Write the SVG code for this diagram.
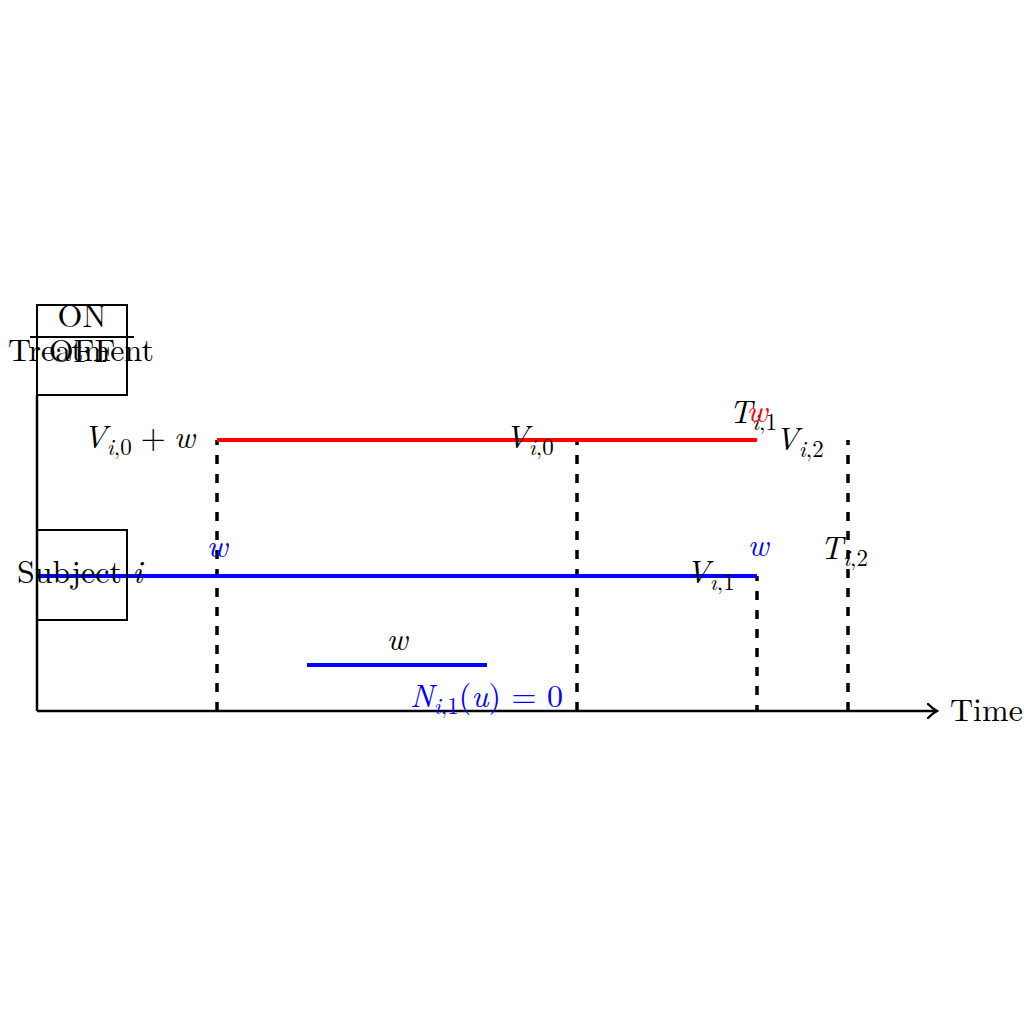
<svg xmlns="http://www.w3.org/2000/svg" width="1024" height="1024" viewBox="0 0 1024 1024">
<defs>
<style>
text{font-family:"Latin Modern Roman","Liberation Serif","DejaVu Serif",serif;font-size:32px;fill:#000}
.m{font-style:italic}
.sub{font-size:23px;font-style:normal}
.it{font-style:italic}
.up{font-style:normal}
.blue{fill:#0000ff}
.red{fill:#ff0000}
.dash{stroke:#000;stroke-width:3.5;stroke-dasharray:9 10;stroke-dashoffset:4;fill:none}
.box{fill:none;stroke:#000;stroke-width:2}
</style>
<marker id="arr" viewBox="0 0 12 16" refX="10" refY="8" markerWidth="12" markerHeight="16" markerUnits="userSpaceOnUse" orient="auto">
<path d="M1,1 Q6,6 10,8 Q6,10 1,15" fill="none" stroke="#000" stroke-width="2.4" stroke-linecap="round"/>
</marker>
</defs>
<rect width="1024" height="1024" fill="#fff"/>
<g id="connectors">
<line x1="37" y1="711" x2="37" y2="395" stroke="#000" stroke-width="2.5"/>
<line x1="37" y1="711" x2="937" y2="711" stroke="#000" stroke-width="2.5" marker-end="url(#arr)"/>
<line class="dash" x1="217" y1="440" x2="217" y2="711"/>
<line class="dash" x1="577" y1="440" x2="577" y2="711"/>
<line class="dash" x1="757" y1="576" x2="757" y2="711"/>
<line class="dash" x1="848" y1="440" x2="848" y2="711"/>
<line x1="217" y1="440" x2="757" y2="440" stroke="#ff0000" stroke-width="4"/>
<line x1="37" y1="576" x2="757" y2="576" stroke="#0000ff" stroke-width="4"/>
<line x1="307" y1="665" x2="487" y2="665" stroke="#0000ff" stroke-width="4"/>
</g>
<g id="treatment">
<rect class="box" x="37" y="305" width="90" height="90"/>
<line x1="30" y1="337" x2="134" y2="337" stroke="#000" stroke-width="2"/>
<text x="82" y="327" text-anchor="middle">ON</text>
<text x="82" y="362" text-anchor="middle">OFF</text>
<text x="81" y="361" text-anchor="middle">Treatment</text>
</g>
<g id="subject">
<rect class="box" x="37" y="530" width="90" height="90"/>
<text x="17" y="583">Subject <tspan class="m">i</tspan></text>
</g>
<g id="labels">
<text x="83" y="448" class="m">V<tspan class="sub" dy="7"><tspan class="it">i</tspan>,0</tspan><tspan dy="-7" dx="9" class="up">+</tspan><tspan dx="8">w</tspan></text>
<text x="505" y="448" class="m">V<tspan class="sub" dy="7"><tspan class="it">i</tspan>,0</tspan></text>
<text x="729" y="423" class="m">T<tspan class="sub" dy="7"><tspan class="it">i</tspan>,1</tspan></text>
<text x="757" y="422" class="m red" text-anchor="middle">w</text>
<text x="775" y="450" class="m">V<tspan class="sub" dy="7"><tspan class="it">i</tspan>,2</tspan></text>
<text x="217" y="557" class="m blue" text-anchor="middle">w</text>
<text x="758" y="556" class="m blue" text-anchor="middle">w</text>
<text x="686" y="583" class="m">V<tspan class="sub" dy="7"><tspan class="it">i</tspan>,1</tspan></text>
<text x="820" y="559" class="m">T<tspan class="sub" dy="7"><tspan class="it">i</tspan>,2</tspan></text>
<text x="397" y="650" class="m" text-anchor="middle">w</text>
<text x="410" y="707" class="m blue">N<tspan class="sub" dy="7"><tspan class="it">i</tspan>,1</tspan><tspan dy="-7" class="up">(</tspan>u<tspan class="up">) = 0</tspan></text>
<text x="950" y="721">Time</text>
</g>
</svg>
